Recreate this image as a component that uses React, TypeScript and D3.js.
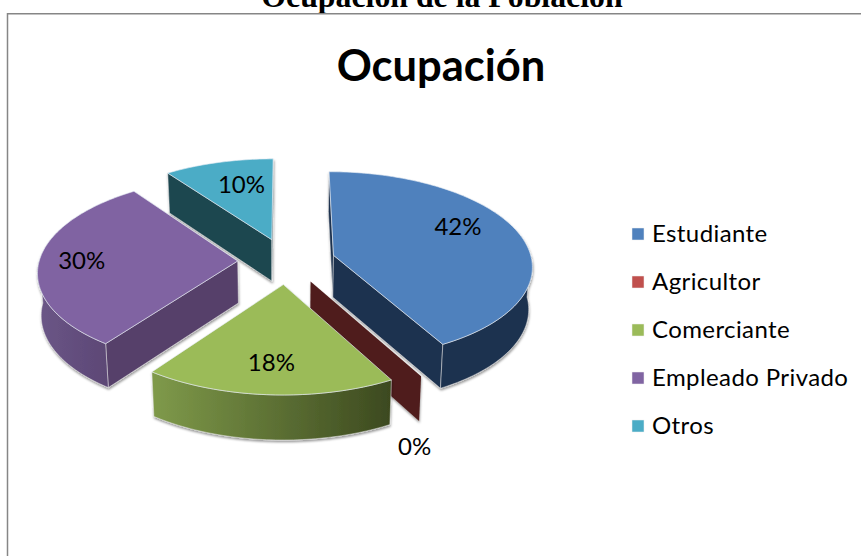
import React from "react";
import * as d3 from "d3";

const categories = ["Estudiante", "Agricultor", "Comerciante", "Empleado Privado", "Otros"];
const percentages = [42, 0, 18, 30, 10];
const topColors = ["#4f81bd", "#c0504d", "#9bbb59", "#8064a2", "#4bacc6"];
const sideColors = ["#1f334f", "#4f1f1d", "#3d4a20", "#56406a", "#1f4650"];
const wallStart = ["#1f334f", "#4f1f1d", "#7f9a4a", "#6b5687", "#1f4650"];
const wallEnd = ["#1f334f", "#4f1f1d", "#3c491f", "#5c4775", "#1f4650"];

// layout of the projected pie
const W = 861, H = 556;
const CX = 286.5, CY = 261, RX = 198.5, RY = 93.5, PERSP = 0.105, EXPLODE = 0.246, DEPTH = 42;
const labelFrac = [0.7, 1.15, 0.7, 0.7, 0.7];
const labelNudge: [number, number][] = [[-6, -14], [-25, 53], [-2, 3], [-17, -2], [8, -1]];
const SANS = "Lato, 'Open Sans', sans-serif";

const project = (u: number, v: number, low = false): [number, number] => {
  const s = 1 / (1 + PERSP * v);
  const x = CX + RX * u * s * (low ? 0.985 : 1);
  const y = CY - RY * v * s + (low ? DEPTH * Math.sqrt(s) : 0);
  return [x, y];
};

const pie = d3.pie<number>().sort(null).value((d) => d);
const line = d3.line<[number, number]>().x((d) => d[0]).y((d) => d[1]);
const HALF = Math.PI / 2;

const slices = pie(percentages).map((a, i) => {
  const mid = (a.startAngle + a.endAngle) / 2;
  const ou = EXPLODE * Math.sin(mid);
  const ov = EXPLODE * Math.cos(mid);
  const pt = (t: number, low = false, f = 1) => project(ou + f * Math.sin(t), ov + f * Math.cos(t), low);
  const apex = (low = false) => project(ou, ov, low);
  const arc = (from: number, to: number, low = false) => {
    const n = Math.max(1, Math.ceil(Math.abs(to - from) / 0.02));
    return d3.range(n + 1).map((k) => pt(from + ((to - from) * k) / n, low));
  };
  const top = [apex(), ...arc(a.startAngle, a.endAngle)];
  const side = (t: number) => [apex(), pt(t), pt(t, true), apex(true)];
  const sides: [number, number][][] = [];
  if (Math.sin(a.startAngle) < 1e-6 && a.endAngle > a.startAngle) sides.push(side(a.startAngle));
  if (Math.sin(a.endAngle) > -1e-6) sides.push(side(a.endAngle));
  const from = Math.max(a.startAngle, HALF);
  const to = Math.min(a.endAngle, 3 * HALF);
  const outer = to > from ? [...arc(from, to), ...arc(from, to, true).reverse()] : null;
  const xs = outer ? d3.extent(outer, (p) => p[0]) : [0, 1];
  const l = pt(mid, false, labelFrac[i]);
  return {
    i, top, sides, outer, xs,
    empty: a.endAngle === a.startAngle,
    lx: l[0] + labelNudge[i][0],
    ly: l[1] + labelNudge[i][1],
  };
});

const legendY = d3.scalePoint<string>().domain(categories).range([234, 426]);
const order = [4, 3, 0, 1, 2];

export default function App() {
  return (
    <svg
      width={W}
      height={H}
      viewBox={`0 0 ${W} ${H}`}
      style={{ position: "absolute", left: 0, top: 0, background: "#fff" }}
    >
      <defs>
        <filter id="sh" x="-10%" y="-10%" width="120%" height="125%">
          <feDropShadow dx="0.5" dy="2" stdDeviation="1.2" floodColor="#000" floodOpacity="0.4" />
        </filter>
        {slices.map((s) => (
          <linearGradient
            key={s.i}
            id={`w${s.i}`}
            gradientUnits="userSpaceOnUse"
            x1={s.xs[0]}
            x2={s.xs[1]}
            y1={0}
            y2={0}
          >
            <stop offset="0" stopColor={wallStart[s.i]} />
            <stop offset="1" stopColor={wallEnd[s.i]} />
          </linearGradient>
        ))}
      </defs>
      <text
        x={442}
        y={7}
        textAnchor="middle"
        fontFamily="'Liberation Serif', serif"
        fontWeight="bold"
        fontSize={31.8}
        fill="#000"
      >
        Ocupación de la Población
      </text>
      <rect x={7.5} y={13.75} width={880} height={600} fill="#fff" stroke="#868686" strokeWidth={1.5} />
      <text x={441} y={80.5} textAnchor="middle" fontFamily={SANS} fontWeight="bold" fontSize={43.5} fill="#000">
        Ocupación
      </text>
      {order.map((k) => {
        const s = slices[k];
        return (
          <g key={k} filter="url(#sh)">
            {s.sides.map((p, j) => (
              <path key={j} d={line(p) + "Z"} fill={sideColors[k]} stroke={s.empty ? "none" : "#e8e8e8"} strokeOpacity={0.7} strokeWidth={0.7} />
            ))}
            {s.outer && <path d={line(s.outer) + "Z"} fill={`url(#w${k})`} stroke="#e8e8e8" strokeOpacity={0.7} strokeWidth={0.7} />}
            {!s.empty && <path d={line(s.top) + "Z"} fill={topColors[k]} stroke="#e8eef5" strokeOpacity={0.8} strokeWidth={0.8} />}
          </g>
        );
      })}
      {slices.map((s) => (
        <text key={s.i} x={s.lx} y={s.ly} textAnchor="middle" dominantBaseline="central" fontFamily={SANS} fontSize={24} fill="#000">
          {percentages[s.i]}%
        </text>
      ))}
      {categories.map((c, i) => (
        <g key={c}>
          <rect x={632} y={legendY(c)! - 6} width={12} height={12} fill={topColors[i]} stroke="#f0f0f0" strokeWidth={0.5} />
          <text x={652} y={legendY(c)! - 1.5} dominantBaseline="central" fontFamily={SANS} fontSize={24} letterSpacing={0.4} fill="#000">
            {c}
          </text>
        </g>
      ))}
    </svg>
  );
}
